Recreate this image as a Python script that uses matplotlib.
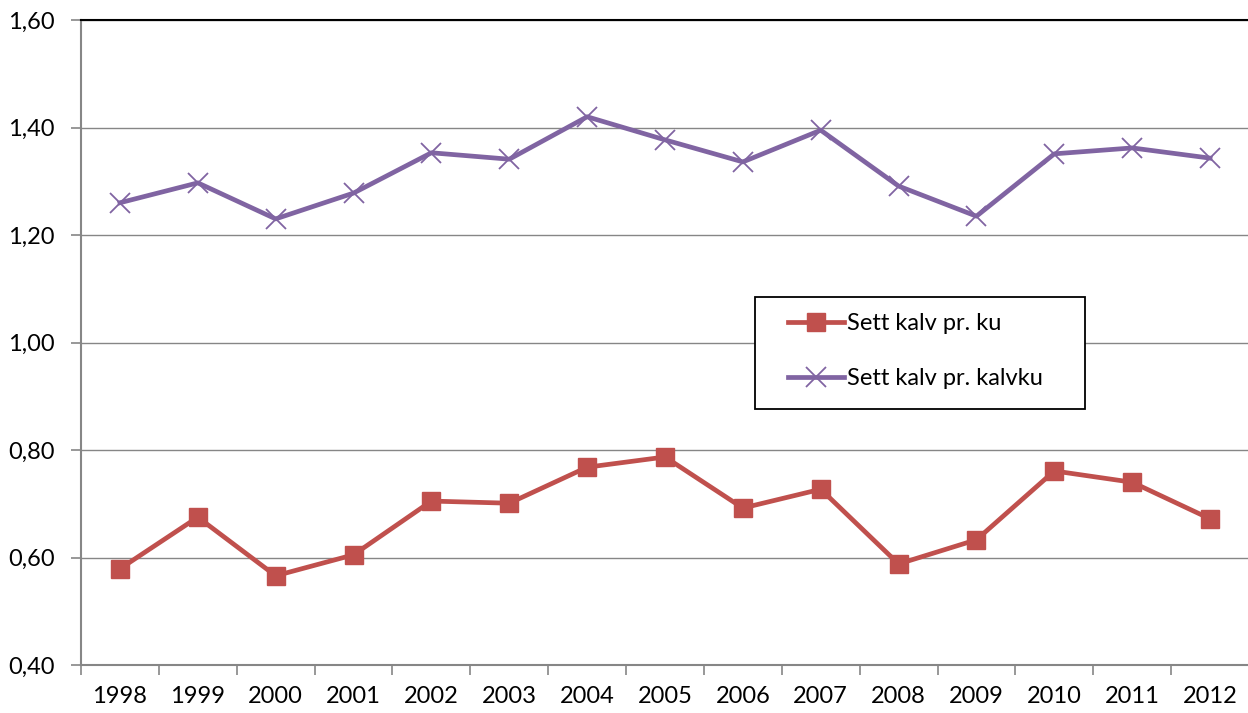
import matplotlib
matplotlib.use("Agg")
import matplotlib.pyplot as plt
from matplotlib.patches import Rectangle

years = ["1998", "1999", "2000", "2001", "2002", "2003", "2004", "2005",
         "2006", "2007", "2008", "2009", "2010", "2011", "2012"]
kalv_pr_ku = [0.579, 0.675, 0.566, 0.605, 0.705, 0.701, 0.768, 0.787,
              0.692, 0.727, 0.588, 0.633, 0.761, 0.740, 0.672]
kalv_pr_kalvku = [1.260, 1.297, 1.230, 1.278, 1.353, 1.341, 1.420, 1.377,
                  1.336, 1.395, 1.291, 1.235, 1.351, 1.362, 1.343]
yticks = [0.40, 0.60, 0.80, 1.00, 1.20, 1.40, 1.60]

RED, PURPLE, GREY = "#C0504D", "#8064A2", "#868686"
plt.rcParams["font.family"] = ["Lato", "DejaVu Sans"]

fig = plt.figure(figsize=(12.48, 7.13), dpi=100)
ax = fig.add_axes([81 / 1248, 48 / 713, 1168 / 1248, 645 / 713])

x = range(len(years))
ax.plot(x, kalv_pr_ku, color=RED, lw=3.4, marker="s", ms=13,
        label="Sett kalv pr. ku", zorder=3)
ax.plot(x, kalv_pr_kalvku, color=PURPLE, lw=3.4, marker="x", ms=15, mew=1.3,
        label="Sett kalv pr. kalvku", zorder=3)

ax.set_xlim(-0.5, len(years) - 0.5)
ax.set_ylim(0.40, 1.60)
ax.set_yticks(yticks)
ax.set_yticklabels([f"{v:.2f}".replace(".", ",") for v in yticks])
ax.set_xticks(list(x))
ax.set_xticklabels(years)
ax.set_xticks([i - 0.5 for i in range(len(years) + 1)], minor=True)
ax.tick_params(axis="x", which="major", length=0, labelsize=17, pad=15)
ax.tick_params(axis="x", which="minor", length=7, color=GREY, width=1.2)
ax.tick_params(axis="y", length=7, color=GREY, width=1.2, labelsize=17, pad=12)
ax.grid(axis="y", color=GREY, lw=1)
ax.set_axisbelow(True)
for s in ("left", "bottom"):
    ax.spines[s].set_color(GREY)
    ax.spines[s].set_linewidth(1.5)
ax.spines["right"].set_visible(False)
ax.spines["top"].set_color("black")
ax.spines["top"].set_linewidth(1.5)

# legend box drawn separately so the padding matches the original
ax.add_patch(Rectangle((0.577, 0.397), 0.283, 0.174, transform=ax.transAxes,
                       facecolor="white", edgecolor="black", lw=1.3, zorder=4))
leg = ax.legend(loc="center left", bbox_to_anchor=(0.605, 0.487), fontsize=17,
                frameon=False, handlelength=2.4, handletextpad=0.12,
                labelspacing=1.45, borderpad=0, borderaxespad=0)
leg.set_zorder(5)

fig.savefig("out.png", dpi=100)
